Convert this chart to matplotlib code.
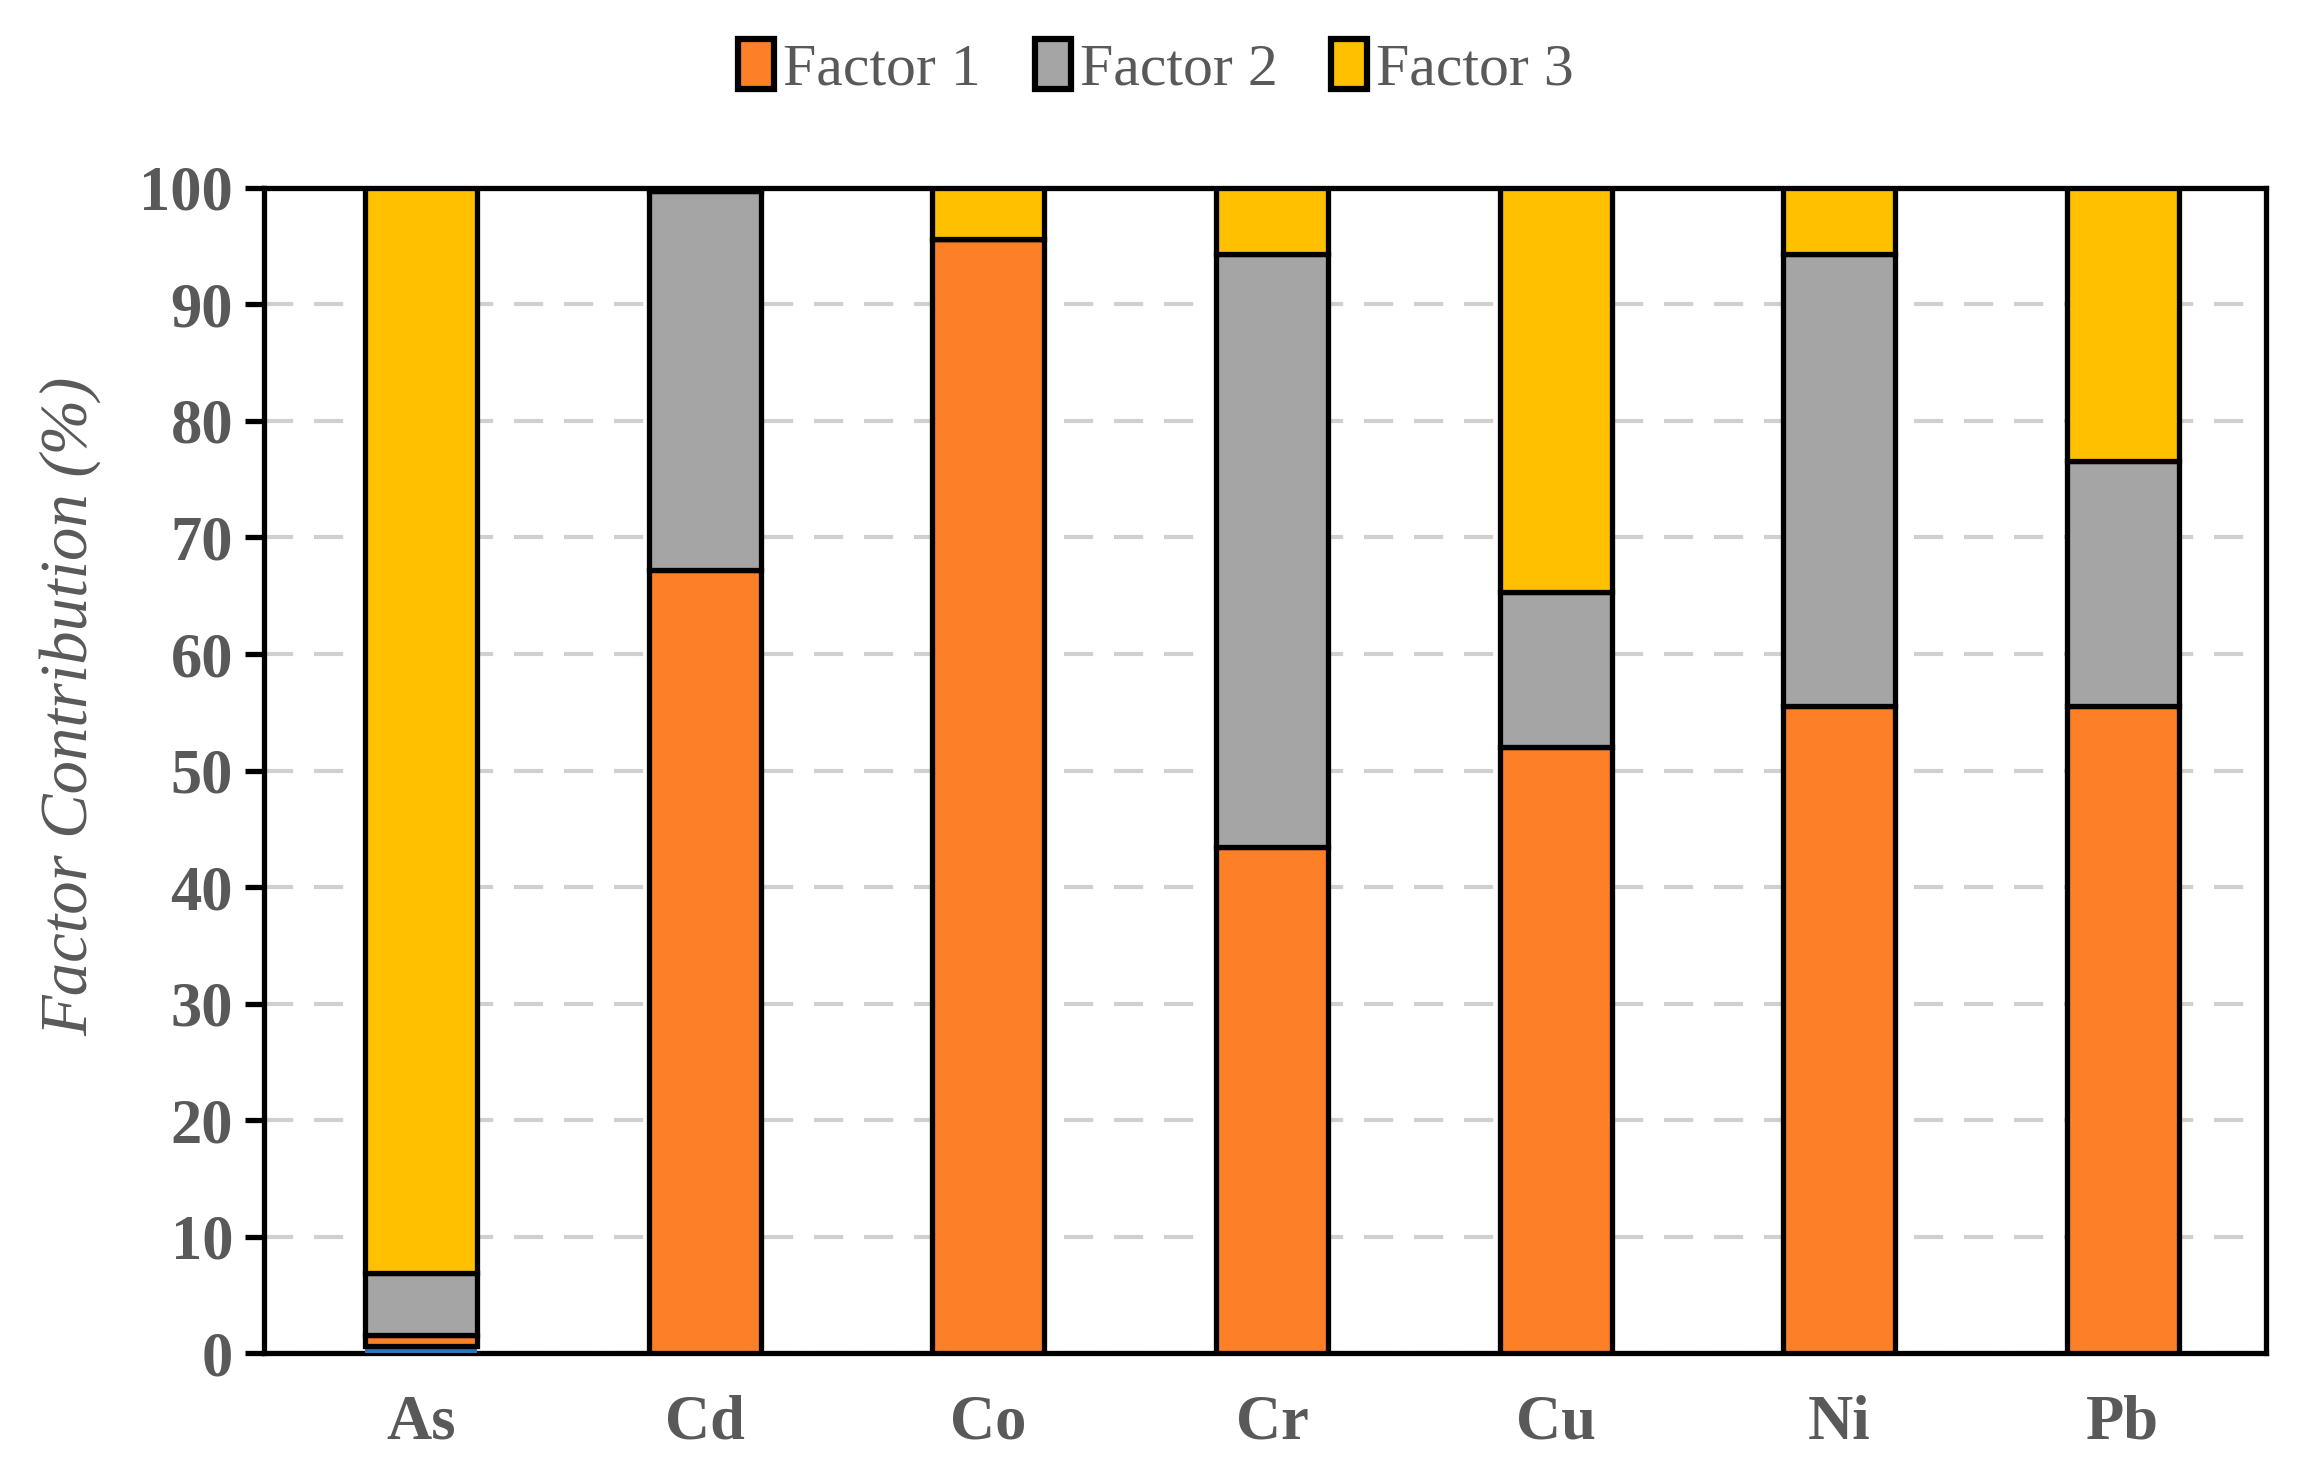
import matplotlib
matplotlib.use("Agg")
import matplotlib.pyplot as plt
import numpy as np

# donnees
elements = ["As", "Cd", "Co", "Cr", "Cu", "Ni", "Pb"]
autre = [0.6, 0, 0, 0, 0, 0, 0]          # petite bande bleue (As seulement)
factor1 = [1.0, 67.2, 95.6, 43.4, 52.0, 55.5, 55.5]
factor2 = [5.3, 32.5, 0.0, 50.9, 13.3, 38.8, 21.1]
factor3 = [93.1, 0.3, 4.4, 5.7, 34.7, 5.7, 23.4]

couleurs = {"autre": "#2E75B6", "f1": "#FD7F28", "f2": "#A5A5A5", "f3": "#FFC000"}
gris_texte = "#595959"

plt.rcParams["font.family"] = ["Liberation Serif", "DejaVu Serif"]

fig = plt.figure(figsize=(23.12, 14.79), dpi=100)
ax = fig.add_axes([0.114, 0.085, 0.866, 0.788])

x = np.arange(len(elements))
largeur = 0.395
bas = np.zeros(len(elements))

ax.bar(x, autre, largeur, bottom=bas, color=couleurs["autre"], edgecolor="none", zorder=3)
bas += np.array(autre)
b1 = ax.bar(x, factor1, largeur, bottom=bas, color=couleurs["f1"], edgecolor="black",
            linewidth=3.8, label="Factor 1", zorder=3)
bas += np.array(factor1)
b2 = ax.bar(x, factor2, largeur, bottom=bas, color=couleurs["f2"], edgecolor="black",
            linewidth=3.8, label="Factor 2", zorder=3)
bas += np.array(factor2)
b3 = ax.bar(x, factor3, largeur, bottom=bas, color=couleurs["f3"], edgecolor="black",
            linewidth=3.8, label="Factor 3", zorder=3)

ax.set_xlim(-0.556, len(elements) - 0.496)
ax.set_ylim(0, 100)
ax.set_yticks(np.arange(0, 101, 10))
ax.set_xticks(x)
ax.set_xticklabels(elements)

for s in ax.spines.values():
    s.set_linewidth(3.8)
    s.set_color("black")

ax.yaxis.grid(True, linestyle=(0, (7, 5)), color="#D0D0D0", linewidth=3, zorder=0)
ax.tick_params(axis="y", direction="out", length=14, width=3.8, pad=8,
               labelsize=45, labelcolor=gris_texte)
ax.tick_params(axis="x", length=0, pad=30, labelsize=45, labelcolor=gris_texte)
for lab in ax.get_xticklabels() + ax.get_yticklabels():
    lab.set_fontweight("bold")

ax.set_ylabel("Factor Contribution (%)", fontsize=48, style="italic", color=gris_texte)
ax.yaxis.set_label_coords(-0.081, 0.555)

leg = fig.legend(handles=[b1, b2, b3], loc="upper center", bbox_to_anchor=(0.5, 1.01),
                 ncol=3, frameon=False, fontsize=43, handlelength=0.6, handleheight=0.9,
                 handletextpad=0.15, columnspacing=0.9)
for t in leg.get_texts():
    t.set_color(gris_texte)
for h in leg.legend_handles:
    h.set_linewidth(4.5)

fig.savefig("out.png", dpi=100)
plt.close(fig)
